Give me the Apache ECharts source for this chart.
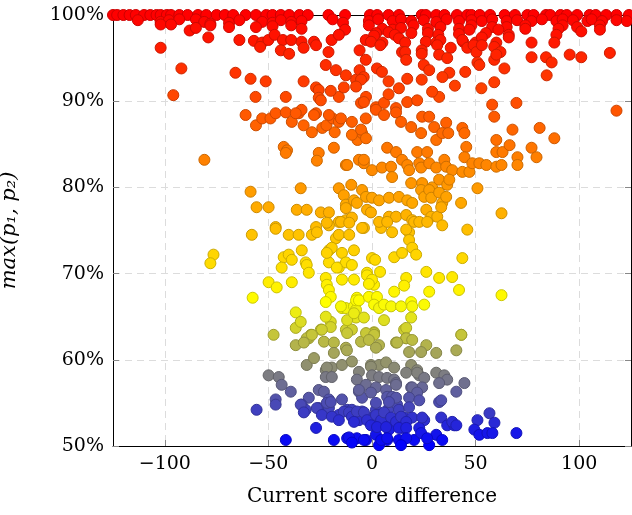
<!DOCTYPE html>
<html>
<head>
<meta charset="utf-8">
<title>max(p1, p2) vs score difference</title>
<script src="https://cdn.jsdelivr.net/npm/echarts@6/dist/echarts.min.js"></script>
<style>
  html, body { margin: 0; padding: 0; background: #fff; }
  #chart { width: 632px; height: 515px; }
</style>
</head>
<body>
<div id="chart"></div>
<script>
// points: [score difference, max(p1,p2) in %]
const redTop = [[-125,100],[-123,100],[-120,100],[-117,100],[-114,100],[-110,100],[-107,100],[-104,100],[-102,100],[-99,100],[-97,100],[-93,100],[-89,100],[-84,100],[-80,100],[-75,100],[-71,100],[-67,100],[-61,100],[-56,100],[-51,100],[-48,100],[-44,100],[-40,100],[-35,100],[-31,100],[-21,100],[-13,100],[-1,100],[2.5,100],[8,100],[13,100],[24,100],[26,100],[31,100],[35,100],[41,100],[46,100],[48,100],[52,100],[57,100],[64,100],[69,100],[75,100],[78,100],[84,100],[86,100],[91,100],[94,100],[99,100],[105,100],[108,100],[113,100],[118,100],[124,100]];
const red99 = [[-113,99.4],[-102,99.2],[-98,99.4],[-93,99.5],[-85,99.5],[-81,99.2],[-78,99.0],[-69,99.1],[-64,99.4],[-53,99.2],[-48,99.1],[-44,99.4],[-39,99.2],[-34,99.3],[-19,99.5],[-14,99.1],[-1.5,99.3],[3,99.5],[10,99.3],[14,99.5],[19,99.3],[25,99.4],[31,99.2],[36,99.5],[42,99.3],[48,99.4],[53,99.3],[58,99.5],[65,99.3],[70,99.4],[77,99.3],[82,99.5],[89,99.3],[92,99.5],[97,99.4],[104,99.3],[106,99.5],[111,99.3],[118,99.4],[123,99.3]];
const red98 = [[-102,98.9],[-97,98.9],[-78,98.8],[-69,98.6],[-56,98.6],[-48,98.7],[-39,98.8],[-34,98.4],[-1.5,98.8],[5,98.4],[10,98.3],[14,98.5],[20,98.8],[27,98.4],[33,98.6],[42,98.4],[48,98.8],[58,98.6],[65,98.6],[74,98.8],[92,98.8],[99,98.6],[110,98.8],[-88,98.2],[-85,98.5],[-13,98.3],[2,97.9],[8,98],[11,97.7],[19,97.9],[27,97.9],[32,97.7],[42,97.8],[47,98.3],[55,97.9],[61,98.3],[66,97.7],[74,98.4],[90,98.4],[101,98.1],[110,98.3]];
const red97 = [[-79,97.4],[-64,97.1],[-57,97],[-53,96.8],[-50,97.1],[-47,97.7],[-43,97.1],[-39,97.1],[-34,96.9],[-28,96.9],[-19.5,97.1],[-16,97.7],[-3,97.1],[1,97.6],[5,96.8],[13,97.3],[16,96.8],[26,96.9],[31,96.8],[33,97.1],[44,96.9],[50,96.8],[53,97.4],[60,96.8],[66,97.4],[77,96.8],[89,97.7],[88,96.8],[43.6,97.1]];
const red96 = [[-102,96.2],[-54,96.3],[-44,95.9],[-40,95.5],[-33,96.2],[-27,96.5],[-21,95.7],[-6,95.9],[-0.5,96.9],[4,96.5],[14.5,95.7],[16,95.7],[24,95.9],[31.5,96.5],[38,96.2],[46,96.2],[49,96.5],[50.4,95.7],[53,96.5],[59,96.3],[62,95.7],[77,95.1],[84,95.1],[86.7,94.5],[95.4,95.4],[101,95.1],[114.8,95.6],[16.5,94.8],[24,95.5],[32.4,95.4],[36.3,95],[50.9,94.5],[59,94.8],[60,95.4],[-3,94.8]];
const red93 = [[-92,93.8],[-65.9,93.3],[-58.6,92.6],[-51.3,92.3],[-22.3,94.2],[-17.4,93.6],[-12.6,93],[-7.7,92.5],[-6,93.6],[-4,92.8],[2.4,93.8],[4.8,93.4],[25,94.2],[27.6,93.6],[37.3,93.3],[51.8,94.2],[63.9,93.8],[84.3,93],[-33,92.3],[-5.3,92.5],[8,92.3],[17,92.6],[24,92.5],[34,92.8],[45,93.4]];
const red91 = [[-95.9,90.7],[-56.2,90.5],[-41.6,90.5],[-27,91.6],[-25.7,91.3],[-25.7,90.4],[-16,90.5],[-13.6,91.6],[-7.7,91.7],[-2.9,90.5],[-19.9,91.2],[-5.3,89.8],[-24.7,90.1],[-3.9,89.9],[1.9,89.3],[5.8,89.8],[11.6,89.2],[17,89.9],[21.8,90.1],[32.4,90.5],[58,89.6],[69.7,89.8],[52.8,91.5],[59,92.2],[13,91.5],[29,91.1],[40,91.8],[8,90.8]];
const orange85 = [[-61,88.4],[-56,87.2],[-53,88],[-49,88],[-46.5,88.6],[-41.6,88.7],[-38.7,87.6],[-35.4,88.6],[-34,89],[-33,87.2],[-29,86.4],[-27,88.6],[-24,86.9],[-22,87.2],[-19,88],[-18,86.4],[-16,87.6],[-9.7,87.6],[-7,85.5],[-4.8,86.3],[-3,88],[-36.8,88.6],[-28,88.4],[-20.8,88.4],[-15,88],[-42.6,84.7],[-41,84.3],[-41.6,84],[-25.7,84],[-26.6,83.1],[-18.4,84.6],[-12.6,82.6],[-9.7,86.1],[-6.3,83.2],[-3.9,82.8],[-80.9,83.2],[-12,82.6],
  [1.9,89],[5.8,88.4],[11.6,88.7],[14,87.6],[18.9,87],[23.7,86.3],[24.2,88.2],[27.6,88.2],[30,87],[31,85.5],[33.9,86.3],[35.8,87.5],[36.8,86.3],[43.6,86.9],[44.6,86.3],[59,88.2],[60,85.5],[67.8,86.7],[80.9,86.9],[88,85.7],[118,88.9],[-5.3,86.7],[-2.9,85.7],
  [7.3,84.6],[11.6,84.1],[21.8,84.1],[26.6,84.1],[45.5,84.7],[44.6,83.5],[60,84.1],[63,84.1],[66.4,84.9],[70.2,83.5],[70.2,82.6],[77,84.6],[79.4,83.5],[-3.9,83.2],[0,82],[4.8,82.3],[9.2,82.4],[14.5,83.2],[17,82.6],[17.9,82],[22.8,82.8],[23.7,82.3],[27.6,82.8],[31,82.3],[34.9,83.2],[35.8,82.4],[38.7,82],[43.6,81.8],[47,81.8],[48.4,82.8],[51.8,82.8],[55.2,82.6],[60,82.4],[62.5,82.6]];
const orange78 = [[9.7,81.2],[18.9,80.5],[24.2,80.5],[29,80],[32.4,80.9],[36.3,80.3],[37.3,80.9],[50.9,79.9],[-4.8,79.7],[-2.9,78.9],[0,78.8],[3.4,78.5],[8.2,78.8],[13,78.9],[17,78.5],[19.4,78.2],[23.7,79.7],[25.2,78.9],[27.6,79.7],[28.6,78.8],[32.4,79.4],[33.9,78.2],[35.8,78.9],[43,78.2],[62.5,77],[-2.4,77.4],[-0.5,77.1],[8.2,76.6],[11.6,76.6],[16.5,76.8],[19.4,76.2],[26.2,77.4],[28.6,76.6],[31.5,76.6],[33.4,77.7],
  [-58.6,79.5],[-34.4,79.9],[-16,79.9],[-13.6,79.1],[-10,80.3],[-12.6,78],[-8.7,78.5],[-7.3,78.2],[-55.7,77.7],[-49.9,77.7],[-36.3,77.4],[-31.5,77.4],[-24.7,77.1],[-20.8,77.1],[-12.6,77.6],[-12.6,76.2],[-9.7,76.5],[-16,76],[-20.8,75.6],[-46.5,75.4],[-27,75.4]];
const yellow70 = [[-58,74.5],[-46.5,75.2],[-40.2,74.5],[-35.4,74.5],[-29,74.5],[-26.6,74.8],[-17.4,74.1],[-16,74.5],[-11,74.5],[-20.8,72.7],[-19.4,73],[-14.5,72.4],[-8.7,72.7],[-76.5,72.2],[-78,71.2],[-42.6,71.9],[-40.2,72.2],[-38.7,71.6],[-33.9,72.7],[-32,71.3],[-31.5,71],[-43.6,70.7],[-30.5,70.1],[-20.8,71.3],[-16,70.7],[-12.6,71.3],[-9.7,71],[-22.3,69.5],[-21.8,68.7],[-14.5,69.3],[-8.7,69.3],[-49.9,69],[-46,68.4],[-38.7,69],[-57.6,67.2],[-20.8,68.1],[-19.9,67.3],[-22.3,66.7],[-7.3,67.2],[-14.5,66],[-12.6,66],[-8.7,66.2],[-36.8,65.5],[-36.8,63.7],[-34.4,64.4],[-30.5,62.5],[-29.5,62.9],[-24.7,63.5],[-19.9,64.4],[-12.6,63.5],[-9.7,63.5],[-7.7,64.9],[-12,64.6],
  [-21.8,75.9],[-15,76],[-11,75.9],[-3.9,75.3],[-21.8,72.4],[-17,70.7],[0,71.8],[-2.4,70.1],[1,68.7],[-7.7,65.8],[-15,66.2],[-7.7,66.9],[-22.3,65],[-19.9,63.8],[-8.7,65.4],[-24.2,63.5],[-12,63.1],[-2.4,62.5],[1,63.2],[15.5,63.5],[16.5,62.5],
  [-4.8,75.3],[4.4,75.3],[9.7,74.8],[17.9,74.8],[16.5,75.1],[20.3,76],[3.4,76],[7.3,76],[22.8,76],[26.6,76],[33.9,75.6],[46,75.1],[17.9,73.9],[19.4,73],[21.3,72.2],[1.5,71.6],[10.7,71.9],[14.5,72.4],[43.6,71.8],[-2.4,69.8],[0,69.3],[-1.5,68.8],[3.9,70.2],[16.5,69.5],[15.5,68.6],[26.2,70.2],[32.4,69.5],[38.7,69.6],[10.7,67.9],[27.6,67.9],[42,68.1],[-6.3,66.9],[-1.5,67.3],[2.4,67.3],[1,66.4],[3.4,66],[5.8,66.4],[9.2,66.2],[14,66.2],[18.9,66.7],[19.4,66.2],[25.2,66.4],[62.5,67.5],[-3.9,64.9],[5.8,64.6],[18.9,64.9],[1,63.1],[16.5,63.7],[43.1,62.9],[-5.3,62.1]];
const gray60 = [[-47.5,62.9],[-36.8,61.7],[-31.5,62.5],[-29,62.9],[-23.2,62.1],[-18.4,62],[-12.6,61.4],[-31.5,59.4],[-28,60.2],[-22.3,58.8],[-19.4,59.1],[-14.5,59.4],[-9.7,59.8],[-6.3,58.6],[-49.9,58.2],[-45,58],[-43.6,57.1],[-2.9,63.1],[1,62.9],[3.4,61.7],[11.6,62],[16.5,62.5],[19.4,62.3],[26.2,61.7],[31,60.8],[40.7,61.1],[43.1,62.9],[-0.5,59.4],[3.4,59.4],[6.8,59.7],[10.7,59.1],[18.9,59.4],[21.8,58.8],[22.8,58.2],[31,58.5],[34.9,58.2],[36.3,57.7],[44.6,57.3],[-32.9,62],[-18.4,60.8],[-12.1,61.1],[-1.5,62.3],[1.9,61.4],[12.1,62],[17.9,60.9],[23.7,60.9],[-21.8,59.1],[-22.3,58],[-19.4,58],[-7.3,57.7],[-0.5,59.2],[0,58.2],[3.4,58],[7.3,57.9],[10.7,57.7],[11.6,57.3],[16.5,58.5],[21.8,58.5],[25.2,57.9],[32.4,57.3],[18.9,56.8],[24.2,56.8]];
const blue53 = [[-39.2,56.3],[-25.7,56.5],[-23.2,56.3],[-30.5,55.6],[-20.8,55.4],[-14.5,55.4],[-6.3,56.3],[-46.5,55.4],[-46.5,54.8],[-55.7,54.2],[-33.9,54.8],[-32,54.2],[-25.7,54.4],[-20.8,54.4],[-16,53.6],[-12,54.2],[-9.7,54.2],[-6.3,53.6],[-27,52.1],[-41.6,50.7],[-18.4,50.7],[-12,50.9],[-9.7,50.7],[-7.3,50.9],[-2.9,50.7],
  [-2.9,57.1],[1.9,56.8],[6.8,56.5],[11.6,57.1],[19.4,56.8],[21.8,56.2],[-4.8,55.6],[-0.5,56.2],[7.3,55.7],[9.7,55.7],[17.9,55.6],[22.8,55.3],[32.4,55.1],[40.7,56.3],[-4.8,54],[1.9,54.2],[8.2,54.4],[12.1,54.8],[13,54.2],[17.9,54.5],[-6.3,53],[0,53.3],[3.4,53.6],[6.8,53],[11.6,53],[15.5,53.3],[19.4,53.3],[25.2,53],[33.4,53.3],[36.3,52.4],[39.7,52.4],[50.9,53],[56.7,53.8],[59.1,52.7],[1.9,51.3],[8.2,51.9],[14.5,52.1],[22.8,52.1],[31,51.3],[49.4,51.9],[51.8,51.3],[55.7,51.5],[58.1,51.5],[69.7,51.5],[-3.9,50.7],[3.4,50.1],[7.3,50.7],[13,50.7],[20.3,50.7],[27.6,50.1],[33.9,50.7],
  [-6.3,56.5],[11.6,55.6],[33.4,55.3],[-34.4,54.8],[-21.8,55],[-19.9,55.1],[1.9,55],[8.2,55.1],[-32.9,53.9],[-26.6,54.4],[-24.2,53.6],[-19.4,53.4],[-13.6,54],[-11.1,53.9],[-9.7,53.4],[-7.3,54],[-3.9,53.9],[-2.4,53],[1.9,53.6],[4.4,53],[5.8,53.9],[9.2,53.3],[11.6,52.8],[14,53.4],[16.5,52.8],[24.2,53.3],[38.7,52.8],[40.7,52.4],[-0.5,52.4],[2.4,52.2],[6.8,52.2],[13,52.1],[16.5,52.1],[-8.7,52.8],[-16,53],[-11.1,51],[4.4,50.7],[7.3,50.9],[16.5,50.9],[23.7,51.5],[26.6,50.9],[-9.7,50.4],[14,50.1]];

// axes
const xMin = -125, xMax = 125;
const xTickValues = [-100, -50, 0, 50, 100];
const yTickLabels = ['50%', '60%', '70%', '80%', '90%', '100%'];
const yMin = 50, yMax = 100, yStep = 10;

// colormap blue -> yellow -> orange -> red over y
const cmapStops = [[0, 0, 255], [255, 255, 0], [255, 128, 0], [255, 0, 0]];
function mapColor(y, k) {
  let t = (y - yMin) / (yMax - yMin) * (cmapStops.length - 1);
  t = Math.max(0, Math.min(cmapStops.length - 1, t));
  const i = Math.min(Math.floor(t), cmapStops.length - 2);
  const f = t - i;
  const c = cmapStops[i].map((v, j) => Math.round((v + (cmapStops[i + 1][j] - v) * f) * k));
  return 'rgb(' + c.join(',') + ')';
}

const allPoints = [].concat(redTop, red99, red98, red97, red96, red93, red91,
  orange85, orange78, yellow70, gray60, blue53);

const seriesData = allPoints.map(p => ({
  value: p,
  itemStyle: { color: mapColor(p[1], 1), borderColor: mapColor(p[1], 0.8) }
}));

const fontFamily = '"DejaVu Serif", "Liberation Serif", serif';
const minus = s => String(s).replace('-', '\u2212');

const chart = echarts.init(document.getElementById('chart'), null, { renderer: 'canvas' });

const tickStyle = { show: true, inside: true, length: 6, lineStyle: { color: '#888' } };
const gridLine = { show: true, lineStyle: { color: '#dcdcdc', type: [7, 5], width: 1 } };

const option = {
  animation: false,
  backgroundColor: '#fff',
  grid: { left: 113, right: 1, top: 15, bottom: 69, containLabel: false, outerBoundsMode: 'none' },
  xAxis: [
    {
      type: 'value',
      min: xMin,
      max: xMax,
      splitNumber: 5,
      name: 'Current score difference',
      nameLocation: 'middle',
      nameGap: 41,
      nameTextStyle: { fontFamily: fontFamily, fontSize: 20, color: '#000' },
      axisLine: { show: true, onZero: false, lineStyle: { color: '#000', width: 1 } },
      axisTick: tickStyle,
      axisLabel: {
        fontFamily: fontFamily, fontSize: 19, color: '#000', margin: 9,
        showMinLabel: false, showMaxLabel: false,
        formatter: v => xTickValues.indexOf(v) >= 0 ? minus(v) : ''
      },
      splitLine: gridLine
    },
    {
      type: 'value',
      position: 'top',
      min: xMin,
      max: xMax,
      splitNumber: 5,
      axisLine: { show: true, onZero: false, lineStyle: { color: '#000', width: 1 } },
      axisTick: tickStyle,
      axisLabel: { show: false },
      splitLine: { show: false }
    }
  ],
  yAxis: [
    {
      type: 'value',
      min: yMin,
      max: yMax,
      interval: yStep,
      name: 'max(p\u2081, p\u2082)',
      nameLocation: 'middle',
      nameGap: 93,
      nameRotate: 90,
      nameTextStyle: { fontFamily: fontFamily, fontSize: 21, fontStyle: 'italic', color: '#000' },
      axisLine: { show: true, onZero: false, lineStyle: { color: '#000', width: 1 } },
      axisTick: tickStyle,
      axisLabel: {
        fontFamily: fontFamily, fontSize: 19, color: '#000', margin: 9,
        formatter: v => yTickLabels[Math.round((v - yMin) / yStep)]
      },
      splitLine: gridLine
    },
    {
      type: 'value',
      position: 'right',
      min: yMin,
      max: yMax,
      interval: yStep,
      axisLine: { show: true, onZero: false, lineStyle: { color: '#000', width: 1 } },
      axisTick: tickStyle,
      axisLabel: { show: false },
      splitLine: { show: false }
    }
  ],
  series: [
    {
      type: 'scatter',
      xAxisIndex: 0,
      yAxisIndex: 0,
      symbol: 'circle',
      symbolSize: 11,
      clip: false,
      itemStyle: { borderWidth: 1, opacity: 1 },
      data: seriesData
    }
  ]
};

chart.setOption(option);
</script>
</body>
</html>
